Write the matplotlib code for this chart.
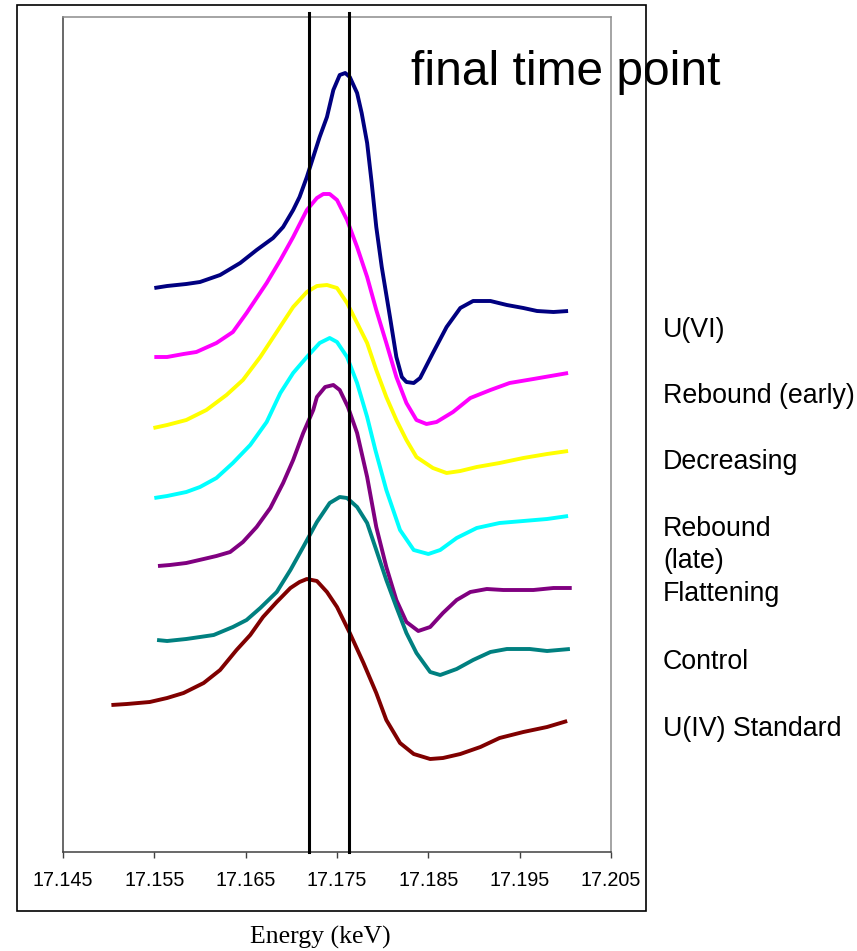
import matplotlib
matplotlib.use("Agg")
import matplotlib.pyplot as plt
from matplotlib.patches import Rectangle

# ---------------- data (energy in keV, stacked normalized absorbance, arbitrary units) -------------
e_u6 = [17.1550, 17.1564, 17.1585, 17.1600, 17.1622, 17.1644, 17.1662, 17.1680, 17.1691, 17.1702,
        17.1709, 17.1717, 17.1724, 17.1731, 17.1739, 17.1746, 17.1753, 17.1759, 17.1764, 17.1772,
        17.1777, 17.1783, 17.1788, 17.1793, 17.1799, 17.1808, 17.1815, 17.1821, 17.1826, 17.1834,
        17.1841, 17.1855, 17.1870, 17.1885, 17.1899, 17.1918, 17.1936, 17.1954, 17.1969, 17.1987,
        17.2003]
a_u6 = [5.64, 5.66, 5.68, 5.70, 5.77, 5.89, 6.02, 6.14, 6.25, 6.42,
        6.55, 6.75, 6.95, 7.15, 7.35, 7.62, 7.77, 7.79, 7.75, 7.59,
        7.39, 7.09, 6.69, 6.25, 5.85, 5.35, 4.95, 4.75, 4.70, 4.69,
        4.74, 4.99, 5.25, 5.44, 5.51, 5.51, 5.47, 5.44, 5.41, 5.40,
        5.41]

e_reb_early = [17.1550, 17.1564, 17.1582, 17.1596, 17.1618, 17.1636, 17.1651, 17.1662, 17.1673, 17.1688,
               17.1702, 17.1717, 17.1728, 17.1735, 17.1742, 17.1750, 17.1761, 17.1772, 17.1783, 17.1793,
               17.1804, 17.1815, 17.1826, 17.1837, 17.1848, 17.1859, 17.1877, 17.1896, 17.1918, 17.1939,
               17.1965, 17.2003]
a_reb_early = [4.95, 4.95, 4.98, 5.00, 5.09, 5.20, 5.39, 5.54, 5.69, 5.92,
               6.15, 6.42, 6.54, 6.58, 6.58, 6.52, 6.32, 6.05, 5.75, 5.42,
               5.09, 4.75, 4.49, 4.32, 4.28, 4.30, 4.40, 4.54, 4.62, 4.69,
               4.73, 4.79]

e_decr = [17.1549, 17.1564, 17.1585, 17.1607, 17.1629, 17.1647, 17.1666, 17.1684, 17.1702, 17.1717,
          17.1728, 17.1739, 17.1750, 17.1761, 17.1772, 17.1783, 17.1793, 17.1804, 17.1815, 17.1826,
          17.1837, 17.1855, 17.1870, 17.1885, 17.1903, 17.1928, 17.1954, 17.1980, 17.2003]
a_decr = [4.24, 4.27, 4.32, 4.42, 4.57, 4.72, 4.95, 5.20, 5.45, 5.60,
          5.66, 5.67, 5.64, 5.49, 5.29, 5.09, 4.82, 4.55, 4.32, 4.12,
          3.95, 3.84, 3.79, 3.81, 3.85, 3.89, 3.94, 3.98, 4.01]

e_reb_late = [17.1550, 17.1564, 17.1585, 17.1600, 17.1618, 17.1636, 17.1655, 17.1673, 17.1688, 17.1702,
              17.1717, 17.1731, 17.1742, 17.1750, 17.1761, 17.1772, 17.1783, 17.1792, 17.1804, 17.1819,
              17.1834, 17.1850, 17.1863, 17.1881, 17.1903, 17.1928, 17.1954, 17.1980, 17.2003]
a_reb_late = [3.54, 3.56, 3.60, 3.65, 3.74, 3.89, 4.07, 4.30, 4.59, 4.79,
              4.95, 5.09, 5.14, 5.10, 4.95, 4.69, 4.35, 4.02, 3.62, 3.22,
              3.02, 2.98, 3.02, 3.14, 3.24, 3.29, 3.31, 3.33, 3.36]

e_flat = [17.1554, 17.1567, 17.1585, 17.1604, 17.1618, 17.1633, 17.1647, 17.1662, 17.1677, 17.1691,
          17.1702, 17.1713, 17.1724, 17.1728, 17.1737, 17.1746, 17.1753, 17.1762, 17.1772, 17.1783,
          17.1793, 17.1804, 17.1815, 17.1826, 17.1839, 17.1852, 17.1866, 17.1881, 17.1896, 17.1914,
          17.1932, 17.1965, 17.1987, 17.2007]
a_flat = [2.86, 2.87, 2.89, 2.93, 2.96, 3.00, 3.10, 3.25, 3.44, 3.69,
          3.92, 4.19, 4.42, 4.55, 4.65, 4.67, 4.62, 4.45, 4.19, 3.75,
          3.25, 2.85, 2.52, 2.30, 2.21, 2.25, 2.39, 2.52, 2.60, 2.63,
          2.62, 2.62, 2.64, 2.64]

e_ctrl = [17.1553, 17.1564, 17.1585, 17.1615, 17.1636, 17.1651, 17.1666, 17.1684, 17.1699, 17.1713,
          17.1728, 17.1742, 17.1753, 17.1761, 17.1772, 17.1783, 17.1793, 17.1804, 17.1815, 17.1826,
          17.1837, 17.1852, 17.1863, 17.1881, 17.1899, 17.1918, 17.1936, 17.1961, 17.1980, 17.2005]
a_ctrl = [2.12, 2.11, 2.13, 2.17, 2.25, 2.32, 2.44, 2.60, 2.82, 3.05,
          3.30, 3.49, 3.55, 3.54, 3.45, 3.29, 3.02, 2.72, 2.45, 2.19,
          1.99, 1.80, 1.77, 1.83, 1.92, 2.00, 2.03, 2.03, 2.01, 2.03]

e_u4 = [17.1503, 17.1520, 17.1545, 17.1564, 17.1582, 17.1604, 17.1622, 17.1640, 17.1655, 17.1669,
        17.1684, 17.1699, 17.1709, 17.1717, 17.1728, 17.1739, 17.1750, 17.1764, 17.1779, 17.1793,
        17.1804, 17.1819, 17.1834, 17.1852, 17.1866, 17.1885, 17.1907, 17.1928, 17.1954, 17.1980,
        17.2002]
a_u4 = [1.47, 1.48, 1.50, 1.54, 1.59, 1.69, 1.82, 2.02, 2.17, 2.35,
        2.50, 2.64, 2.70, 2.73, 2.71, 2.60, 2.45, 2.19, 1.89, 1.59,
        1.32, 1.09, 0.98, 0.93, 0.94, 0.98, 1.05, 1.14, 1.20, 1.25,
        1.31]

series_names = ["U(VI)", "Rebound (early)", "Decreasing", "Rebound\n(late)",
                "Flattening", "Control", "U(IV) Standard"]
series_colors = ["#000080", "#FF00FF", "#FFFF00", "#00FFFF", "#800080", "#008080", "#800000"]

ref_energies = [17.1719, 17.1763]
ref_span = [0.0, 8.39]

x_ticks = [17.145, 17.155, 17.165, 17.175, 17.185, 17.195, 17.205]
x_tick_labels = ["17.145", "17.155", "17.165", "17.175", "17.185", "17.195", "17.205"]

# ---------------- figure ----------------
W, H = 857, 951
fig = plt.figure(figsize=(W / 100, H / 100), dpi=100)
plt.rcParams["font.family"] = ["Liberation Sans", "DejaVu Sans"]

ax = fig.add_axes([63 / W, 1 - 852 / H, (611 - 63) / W, (852 - 17) / H])
ax.set_xlim(17.145, 17.205)
ax.set_ylim(0, 8.35)

xs = [e_u6, e_reb_early, e_decr, e_reb_late, e_flat, e_ctrl, e_u4]
ys = [a_u6, a_reb_early, a_decr, a_reb_late, a_flat, a_ctrl, a_u4]
for x, y, c, n in zip(xs, ys, series_colors, series_names):
    ax.plot(x, y, color=c, lw=2.8, solid_joinstyle="round", solid_capstyle="butt", label=n, zorder=3)

for e in ref_energies:
    ax.plot([e, e], ref_span, color="black", lw=2.2, clip_on=False, zorder=4)

ax.set_xticks(x_ticks)
ax.set_xticklabels(x_tick_labels, fontsize=14.2)
ax.set_yticks([])
ax.tick_params(axis="x", direction="out", length=4.5, width=1.0, color="#404040", pad=9)
ax.spines["left"].set_color("#404040")
ax.spines["bottom"].set_color("#404040")
ax.spines["top"].set_color("#8c8c8c")
ax.spines["right"].set_color("#8c8c8c")
for s in ax.spines.values():
    s.set_linewidth(1.1)

# outer chart frame
fig.patches.append(Rectangle((17 / W, 1 - 911 / H), (646 - 17) / W, (911 - 5) / H,
                             transform=fig.transFigure, fill=False, ec="black", lw=1.2, zorder=5))

# title-like annotation
fig.text(411 / W, 1 - 85 / H, "final time point", fontsize=34.5, ha="left", va="baseline", zorder=1)

# legend-like labels (no symbols)
label_baselines = [337, 403, 469, 536, 568, 601, 669, 736]
label_texts = ["U(VI)", "Rebound (early)", "Decreasing", "Rebound", "(late)",
               "Flattening", "Control", "U(IV) Standard"]
for t, yb in zip(label_texts, label_baselines):
    fig.text(663 / W, 1 - yb / H, t, fontsize=19.3, ha="left", va="baseline")

# axis title
fig.text(320 / W, 1 - 944 / H, "Energy (keV)", fontsize=18.5, ha="center", va="baseline",
         family=["Liberation Serif", "DejaVu Serif"])

fig.savefig("out.png", dpi=100)
